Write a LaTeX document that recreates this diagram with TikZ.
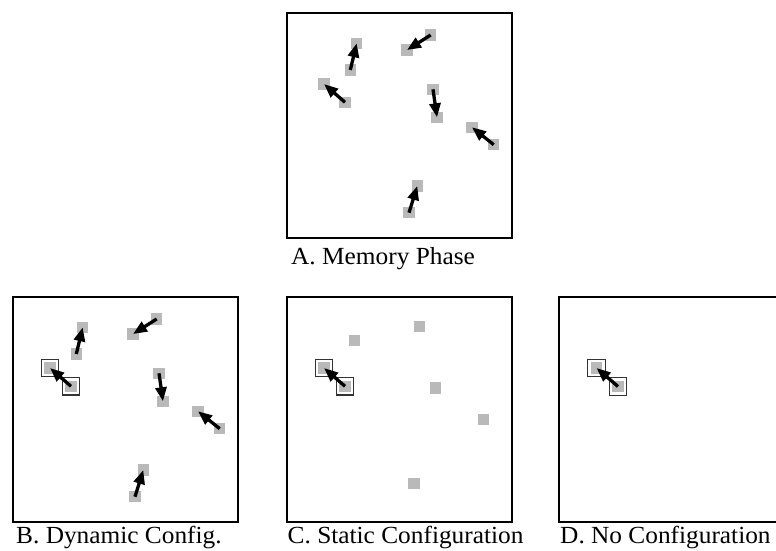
\documentclass[tikz,border=0pt]{standalone}
\usepackage{fontspec}
\setmainfont{Liberation Serif}[FakeStretch=1.03]
\usetikzlibrary{arrows.meta}
\definecolor{sqgray}{RGB}{185,185,185}
\tikzset{
  panelbox/.style={draw=black, line width=2pt, minimum size=225pt, inner sep=0pt, outer sep=0pt, anchor=north west},
  sq/.style={fill=sqgray, minimum size=11.5pt, inner sep=0pt, outer sep=0pt},
  sqframe/.style={draw=black!80, line width=1.3pt, fill=white, minimum size=17.5pt, inner sep=0pt, outer sep=0pt},
  mv/.style={line width=3.3pt, -{Triangle[length=14pt,width=11pt]}},
  lab/.style={anchor=base west, inner sep=0pt, font=\fontsize{24.6}{25}\selectfont}
}
\begin{document}
\begin{tikzpicture}[x=1pt,y=-1pt]
\useasboundingbox (0,0) rectangle (776,551);

% ---------- Panel A ----------
\begin{scope}[shift={(287,13)}]
  \node[panelbox] (Abox) at (0,0) {};
  \foreach \n/\x/\y in {1/69.7/30.3, 2/63.3/57, 3/143.7/22, 4/120/37, 5/37/71, 6/58/89.3,
                        7/146/76.3, 8/150/104.3, 9/185/114.3, 10/206.7/131.7, 11/130.3/173, 12/122/199.7}
    \node[sq] (A\n) at (\x,\y) {};
  \draw[mv] (A2.center) -- (A1.center);
  \draw[mv] (A3.center) -- (A4.center);
  \draw[mv] (A6.center) -- (A5.center);
  \draw[mv] (A7.center) -- (A8.center);
  \draw[mv] (A10.center) -- (A9.center);
  \draw[mv] (A12.center) -- (A11.center);
\end{scope}
\node[lab] (Alab) at (291,264) {A. Memory Phase};

% ---------- Panel B ----------
\begin{scope}[shift={(13,297)}]
  \node[panelbox] (Bbox) at (0,0) {};
  \node[sqframe] (B5f) at (37,71) {};
  \node[sqframe] (B6f) at (58,89.3) {};
  \foreach \n/\x/\y in {1/69.7/30.3, 2/63.3/57, 3/143.7/22, 4/120/37, 5/37/71, 6/58/89.3,
                        7/146/76.3, 8/150/104.3, 9/185/114.3, 10/206.7/131.7, 11/130.3/173, 12/122/199.7}
    \node[sq] (B\n) at (\x,\y) {};
  \draw[mv] (B2.center) -- (B1.center);
  \draw[mv] (B3.center) -- (B4.center);
  \draw[mv] (B6.center) -- (B5.center);
  \draw[mv] (B7.center) -- (B8.center);
  \draw[mv] (B10.center) -- (B9.center);
  \draw[mv] (B12.center) -- (B11.center);
\end{scope}
\node[lab] (Blab) at (16,543) {B. Dynamic Config.};

% ---------- Panel C ----------
\begin{scope}[shift={(287,297)}]
  \node[panelbox] (Cbox) at (0,0) {};
  \node[sqframe] (C5f) at (37,71) {};
  \node[sqframe] (C6f) at (58,89.3) {};
  \node[sq] (C5) at (37,71) {};
  \node[sq] (C6) at (58,89.3) {};
  \foreach \n/\x/\y in {1/67.3/43.3, 2/132.4/29.6, 3/148.5/90.8, 4/196.4/122.6, 5/126.8/186.3}
    \node[sq] (Cm\n) at (\x,\y) {};
  \draw[mv] (C6.center) -- (C5.center);
\end{scope}
\node[lab] (Clab) at (287.5,543) {C. Static Configuration};

% ---------- Panel D ----------
\begin{scope}[shift={(559,297)}]
  \node[panelbox] (Dbox) at (0,0) {};
  \node[sqframe] (D5f) at (37.5,71) {};
  \node[sqframe] (D6f) at (59,89.5) {};
  \node[sq] (D5) at (37.5,71) {};
  \node[sq] (D6) at (59,89.5) {};
  \draw[mv] (D6.center) -- (D5.center);
\end{scope}
\node[lab] (Dlab) at (560,543) {D. No Configuration};
\end{tikzpicture}
\end{document}
